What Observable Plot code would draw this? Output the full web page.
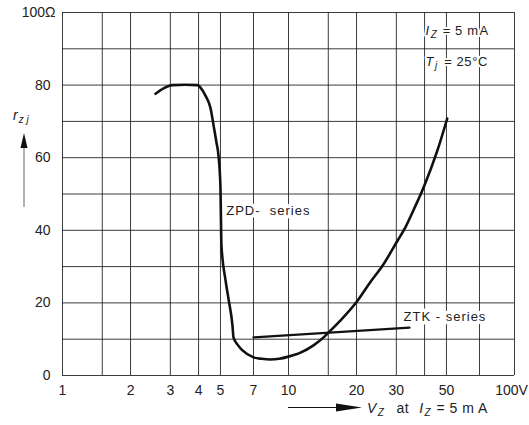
<!DOCTYPE html>
<html><head><meta charset="utf-8">
<script src="https://cdn.jsdelivr.net/npm/d3@7"></script>
<script src="https://cdn.jsdelivr.net/npm/@observablehq/plot@0.6"></script>
<style>
body{margin:0;background:#fff;}
#chart svg{display:block;}
</style></head><body><div id="chart"></div>
<script>
// grid and ticks
const xGrid = [1, 1.5, 2, 3, 4, 5, 7, 10, 15, 20, 30, 40, 50, 70, 100];
const xTicks = [1, 2, 3, 4, 5, 7, 10, 20, 30, 50];
const xTickLabels = ["1", "2", "3", "4", "5", "7", "10", "20", "30", "50"];
const xLastTick = [100];
const xLastLabel = ["100V"];
const yGrid = [0, 10, 20, 30, 40, 50, 60, 70, 80, 90, 100];
const yTicks = [0, 20, 40, 60, 80];
const yTopTick = [100];

// ZPD-series curve (V_Z in volts, r_zj in ohms)
const zpdV = [2.58, 2.8, 3.07, 3.5, 3.96, 4.08, 4.29, 4.52, 4.66, 4.8, 4.9, 5.0, 5.02, 5.05, 5.26, 5.43, 5.65, 5.71, 5.95, 6.26, 7.0, 7.6, 8.3, 9.1, 10, 11.3, 12.9, 14.3, 15.0, 17.0, 20.2, 23, 26.1, 30.4, 32.9, 36, 39.6, 45.6, 50.4];
const zpdR = [77.6, 79.1, 80, 80.1, 80, 79.3, 77.1, 73.6, 68.9, 64.2, 60.6, 51.8, 45, 35.8, 26.4, 21, 13.8, 10.5, 8.5, 6.9, 5.0, 4.6, 4.4, 4.6, 5.2, 6.3, 8.3, 10.5, 11.8, 15.2, 20.6, 25.7, 30.3, 37.2, 40.8, 46, 51.8, 62, 70.8];

// ZTK-series line
const ztkV = [7.0, 34.3];
const ztkR = [10.5, 13.2];

// series labels
const seriesLabels = ["ZPD-\u00a0 series", "ZTK -\u00a0series"];
const seriesLabelV = [5.3, 32.3];
const seriesLabelR = [45.5, 16.3];

// condition annotations (I_Z = 5 mA, T_j = 25 °C)
const condV = [40.4, 40.4];
const condR = [95, 86.5];

const zpd = zpdV.map((v, i) => ({v, r: zpdR[i]}));
const ztk = ztkV.map((v, i) => ({v, r: ztkR[i]}));
const sl = seriesLabels.map((t, i) => ({t, v: seriesLabelV[i], r: seriesLabelR[i]}));
const cond = condV.map((v, i) => ({v, r: condR[i], t: "x"}));
const xt = xTicks.map((v, i) => ({v, t: xTickLabels[i]}));
const xtLast = xLastTick.map((v, i) => ({v, t: xLastLabel[i]}));

const FONT = "Liberation Sans, Arial, sans-serif";

const plot = Plot.plot({
  width: 529,
  height: 425,
  marginLeft: 62,
  marginRight: 15,
  marginTop: 12,
  marginBottom: 50,
  style: {fontFamily: FONT, fontSize: "14px", color: "#222", background: "#fff"},
  x: {type: "log", domain: [1, 100], axis: null},
  y: {domain: [0, 100]},
  marks: [
    Plot.ruleX(xGrid, {stroke: "#1a1a1a", strokeWidth: 1, strokeOpacity: 0.85}),
    Plot.ruleY(yGrid, {stroke: "#1a1a1a", strokeWidth: 1, strokeOpacity: 0.85}),
    Plot.text(xt, {x: "v", text: "t", frameAnchor: "bottom", lineAnchor: "middle", dy: 15, fontSize: 14, fill: "#222"}),
    Plot.text(xtLast, {x: "v", text: "t", frameAnchor: "bottom", lineAnchor: "middle", dy: 15, dx: -3, fontSize: 14, fill: "#222"}),
    Plot.axisY(yTicks, {tickSize: 0, tickPadding: 12, fontSize: 14, tickFormat: d => String(d), label: null}),
    Plot.axisY(yTopTick, {tickSize: 0, tickPadding: 7, fontSize: 14, tickFormat: () => "100Ω", label: null}),
    Plot.text(sl, {x: "v", y: "r", text: "t", textAnchor: "start", fontSize: 13, fill: "#222", stroke: "white", strokeWidth: 7, className: "series-lbl"}),
    Plot.line(ztk, {x: "v", y: "r", stroke: "#111", strokeWidth: 2.2}),
    Plot.line(zpd, {x: "v", y: "r", curve: "monotone-x", stroke: "#111", strokeWidth: 2.6}),
    Plot.text(cond, {x: "v", y: "r", text: "t", textAnchor: "start", fontSize: 13, fill: "#222", stroke: "white", strokeWidth: 4, className: "cond-ann"})
  ]
});

document.getElementById("chart").appendChild(plot);

const svg = d3.select(plot);
svg.selectAll(".series-lbl text").attr("letter-spacing", 1);

// rich text helper: parts = [{t, i(talic), sub, dx}]
function rich(sel, parts, subSize) {
  sel.text(null);
  let shifted = false;
  parts.forEach(p => {
    const ts = sel.append("tspan").text(p.t);
    if (p.i) ts.attr("font-style", "italic");
    let dy = 0;
    if (p.sub && !shifted) { dy = 3; shifted = true; }
    else if (!p.sub && shifted) { dy = -3; shifted = false; }
    if (dy) ts.attr("dy", dy);
    if (p.sub) ts.attr("font-size", subSize);
    if (p.dx) ts.attr("dx", p.dx);
  });
}

const condParts = [
  [{t: "I", i: true}, {t: "Z", i: true, sub: true, dx: 1}, {t: "\u00a0= 5 m", dx: 1}, {t: "A", dx: 1}],
  [{t: "T", i: true}, {t: "j", i: true, sub: true, dx: 1}, {t: "\u00a0= 25°C", dx: 2}]
];
svg.selectAll(".cond-ann text").each(function(d, i) {
  d3.select(this).attr("letter-spacing", 0.6);
  rich(d3.select(this), condParts[i], 10);
});

// y-axis title with upward arrow
const g = svg.append("g").attr("fill", "#222").attr("font-family", FONT).attr("text-anchor", "start");
g.append("line").attr("x1", 24).attr("x2", 24).attr("y1", 207).attr("y2", 146)
  .attr("stroke", "#999").attr("stroke-width", 1.5);
g.append("path").attr("d", "M24,133 L20.5,148 L27.5,148 Z").attr("fill", "#111");
const ytl = g.append("text").attr("x", 13).attr("y", 120).attr("font-size", 14);
rich(ytl, [{t: "r", i: true}, {t: "z\u00a0j", i: true, sub: true, dx: 1}], 10);

// x-axis title with right arrow
g.append("line").attr("x1", 288).attr("x2", 340).attr("y1", 407.5).attr("y2", 407.5)
  .attr("stroke", "#111").attr("stroke-width", 1.2);
g.append("path").attr("d", "M362,407.5 L336,403.5 L336,411.5 Z").attr("fill", "#111");
const xtl = g.append("text").attr("x", 367).attr("y", 413).attr("font-size", 14).attr("letter-spacing", 0.5);
rich(xtl, [
  {t: "V", i: true}, {t: "Z", i: true, sub: true, dx: 1},
  {t: "at", dx: 12}, {t: "I", i: true, dx: 10}, {t: "Z", i: true, sub: true, dx: 1},
  {t: "\u00a0= 5 m A", dx: 1}
], 10);
</script>
</body></html>
